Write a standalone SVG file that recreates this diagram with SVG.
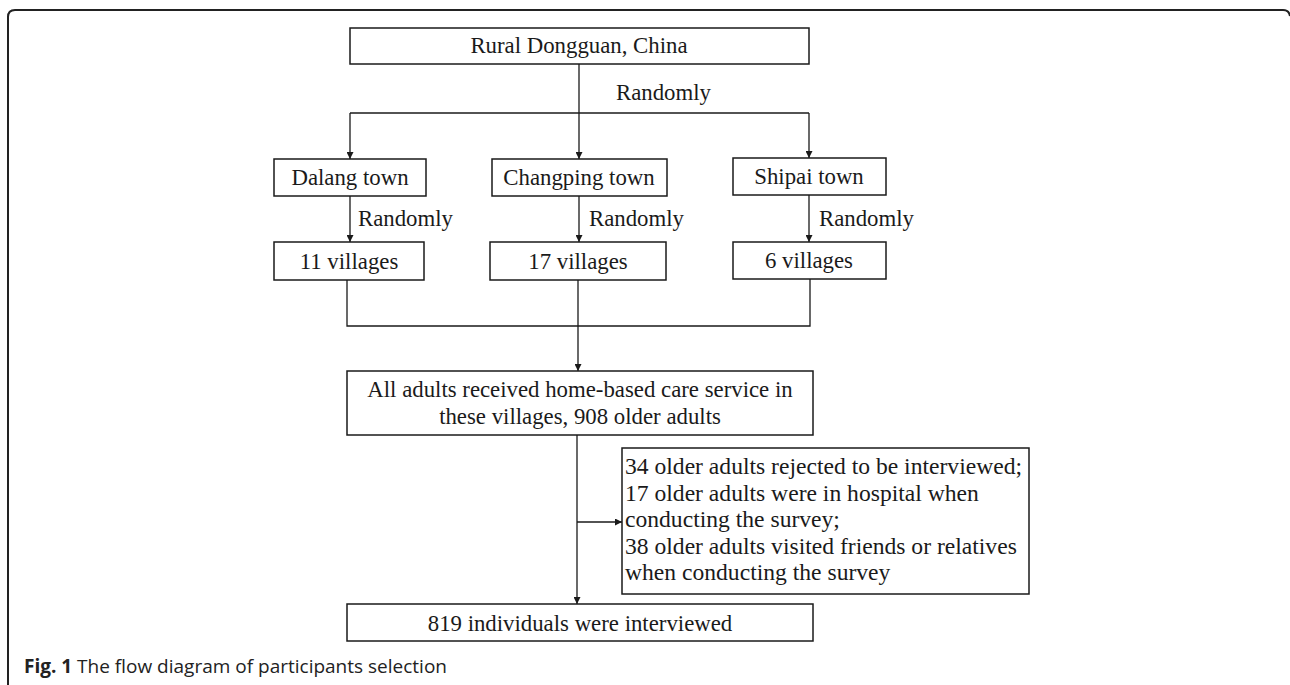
<svg xmlns="http://www.w3.org/2000/svg" width="1290" height="685" viewBox="0 0 1290 685">
<defs>
<marker id="ah" viewBox="0 0 10 10" refX="10" refY="5" markerWidth="7" markerHeight="7" markerUnits="userSpaceOnUse" orient="auto">
<path d="M0,0 L10,5 L0,10 Z" fill="#1a1a1a"/>
</marker>
<style>
.box{fill:#fff;stroke:#1a1a1a;stroke-width:1.5}
.t{font-family:"Liberation Serif","Times New Roman",serif;font-size:22.8px;fill:#1a1a1a}
.x{font-size:23.6px}
.c{text-anchor:middle}
.ln{fill:none;stroke:#1a1a1a;stroke-width:1.3}
.arr{fill:none;stroke:#1a1a1a;stroke-width:1.3;marker-end:url(#ah)}
.cap{font-family:"Open Sans","Noto Sans",sans-serif;font-size:19px;fill:#222}
</style>
</defs>
<rect width="1290" height="685" fill="#fff"/>
<path d="M8,685 L8,17 Q8,10 15,10 L1283,10 Q1289,10 1290,16" fill="none" stroke="#222" stroke-width="2"/>
<g id="connectors">
<path class="ln" d="M579,64 L579,113"/>
<path class="ln" d="M350,113 L809,113"/>
<path class="arr" d="M350,113 L350,159"/>
<path class="arr" d="M579,113 L579,159"/>
<path class="arr" d="M809,113 L809,158"/>
<path class="arr" d="M350,196 L350,242"/>
<path class="arr" d="M579,196 L579,242"/>
<path class="arr" d="M809,195 L809,242"/>
<path class="ln" d="M347,280 L347,326 L810,326 L810,279"/>
<path class="arr" d="M578,280 L578,371"/>
<path class="arr" d="M577,435 L577,604"/>
<path class="arr" d="M577,522 L622,522"/>
<text class="t" x="616" y="100">Randomly</text>
<text class="t" x="358" y="226">Randomly</text>
<text class="t" x="589" y="226">Randomly</text>
<text class="t" x="819" y="226">Randomly</text>
</g>
<g id="n-rural"><rect class="box" x="350" y="28" width="459" height="36"/><text class="t c" x="579" y="53">Rural Dongguan, China</text></g>
<g id="n-dalang"><rect class="box" x="274" y="159" width="152" height="37"/><text class="t c" x="350" y="185">Dalang town</text></g>
<g id="n-changping"><rect class="box" x="492" y="159" width="175" height="37"/><text class="t c" x="579" y="185">Changping town</text></g>
<g id="n-shipai"><rect class="box" x="733" y="158" width="153" height="37"/><text class="t c" x="809" y="184">Shipai town</text></g>
<g id="n-v11"><rect class="box" x="274" y="242" width="150" height="38"/><text class="t c" x="349" y="269">11 villages</text></g>
<g id="n-v17"><rect class="box" x="490" y="242" width="176" height="38"/><text class="t c" x="578" y="269">17 villages</text></g>
<g id="n-v6"><rect class="box" x="733" y="242" width="153" height="37"/><text class="t c" x="809" y="268">6 villages</text></g>
<g id="n-all"><rect class="box" x="347" y="371" width="466" height="64"/><text class="t c" x="580" y="397">All adults received home-based care service in</text><text class="t c" x="580" y="424">these villages, 908 older adults</text></g>
<g id="n-excl"><rect class="box" x="622" y="448" width="407" height="146"/>
<text class="t x" x="625" y="474">34 older adults rejected to be interviewed;</text>
<text class="t x" x="625" y="500.5">17 older adults were in hospital when</text>
<text class="t x" x="625" y="527">conducting the survey;</text>
<text class="t x" x="625" y="553.5">38 older adults visited friends or relatives</text>
<text class="t x" x="625" y="580">when conducting the survey</text>
</g>
<g id="n-819"><rect class="box" x="347" y="604" width="466" height="37"/><text class="t c" x="580" y="631">819 individuals were interviewed</text></g>
<text class="cap" x="24" y="673"><tspan font-weight="bold">Fig. 1</tspan> The flow diagram of participants selection</text>
</svg>
